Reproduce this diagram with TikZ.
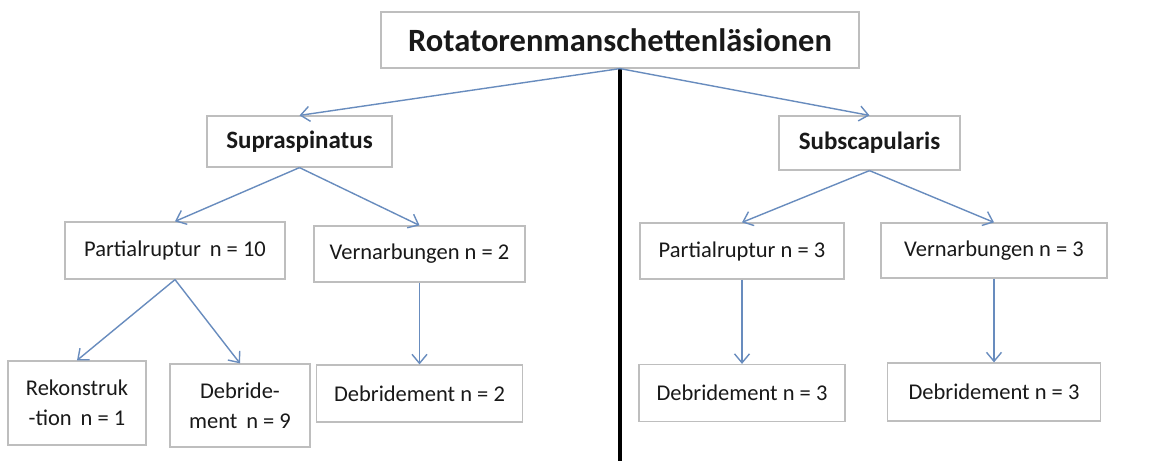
\documentclass[tikz,border=0pt]{standalone}
\usepackage{fontspec}
\setmainfont{Carlito}
\usetikzlibrary{arrows.meta}
\definecolor{boxline}{RGB}{190,190,190}
\definecolor{arrowblue}{RGB}{104,140,190}
\definecolor{txt}{RGB}{25,25,25}
\tikzset{
  box/.style={draw=boxline, line width=1.2pt, fill=white, inner sep=2pt, align=center,
    text=txt, font=\fontsize{22.5}{30}\selectfont},
  titlebox/.style={box, font=\fontsize{32.5}{36}\selectfont\bfseries},
  headbox/.style={box, font=\fontsize{25}{30}\selectfont\bfseries},
  arr/.style={draw=arrowblue, line width=1.4pt, -{Straight Barb[length=9pt,width=15pt,line width=1.4pt]}},
  divider/.style={draw=black, line width=4pt}
}
\begin{document}
\begin{tikzpicture}[x=1pt,y=-1pt]
\useasboundingbox (0,0) rectangle (1167,461);
\fill[white] (0,0) rectangle (1167,461);
% nodes
\node[titlebox, minimum width=478pt, minimum height=56pt] (top) at (620,40) {Rotatorenmanschettenläsionen};
\node[headbox, minimum width=185pt, minimum height=51pt] (supra) at (299.5,141.5) {Supraspinatus};
\node[headbox, minimum width=181pt, minimum height=54pt] (subsc) at (869.5,143) {Subscapularis};
\node[box, minimum width=220pt, minimum height=57pt] (pr10) at (175,250.5) {Partialruptur\, n = 10};
\node[box, minimum width=211pt, minimum height=56pt] (v2) at (419.5,254) {Vernarbungen n = 2};
\node[box, minimum width=138pt, minimum height=84pt] (rek) at (77,403) {Rekonstruk\\-tion\, n = 1};
\node[box, minimum width=140pt, minimum height=83pt] (deb9) at (240,405.5) {Debride-\\ment\, n = 9};
\node[box, minimum width=206pt, minimum height=57pt] (deb2) at (419.5,393.5) {Debridement n = 2};
\node[box, minimum width=204pt, minimum height=56pt] (pr3) at (742,251) {Partialruptur n = 3};
\node[box, minimum width=226pt, minimum height=55pt] (v3) at (994,250.5) {Vernarbungen n = 3};
\node[box, minimum width=206pt, minimum height=57pt] (deb3a) at (742,393) {Debridement n = 3};
\node[box, minimum width=213pt, minimum height=58pt] (deb3b) at (994,392) {Debridement n = 3};
\coordinate (bot) at (620,461);
% divider
\draw[divider] (top.south) -- (top.south |- bot);
% connectors
\draw[arr] (top.south) -- (supra.north);
\draw[arr] (top.south) -- (subsc.north);
\draw[arr] (supra.south) -- (pr10.north);
\draw[arr] (supra.south) -- (v2.north);
\draw[arr] (pr10.south) -- (rek.north);
\draw[arr] (pr10.south) -- (deb9.north);
\draw[arr] (v2.south) -- (deb2.north);
\draw[arr] (subsc.south) -- (pr3.north);
\draw[arr] (subsc.south) -- (v3.north);
\draw[arr] (pr3.south) -- (deb3a.north);
\draw[arr] (v3.south) -- (deb3b.north);
\end{tikzpicture}
\end{document}
